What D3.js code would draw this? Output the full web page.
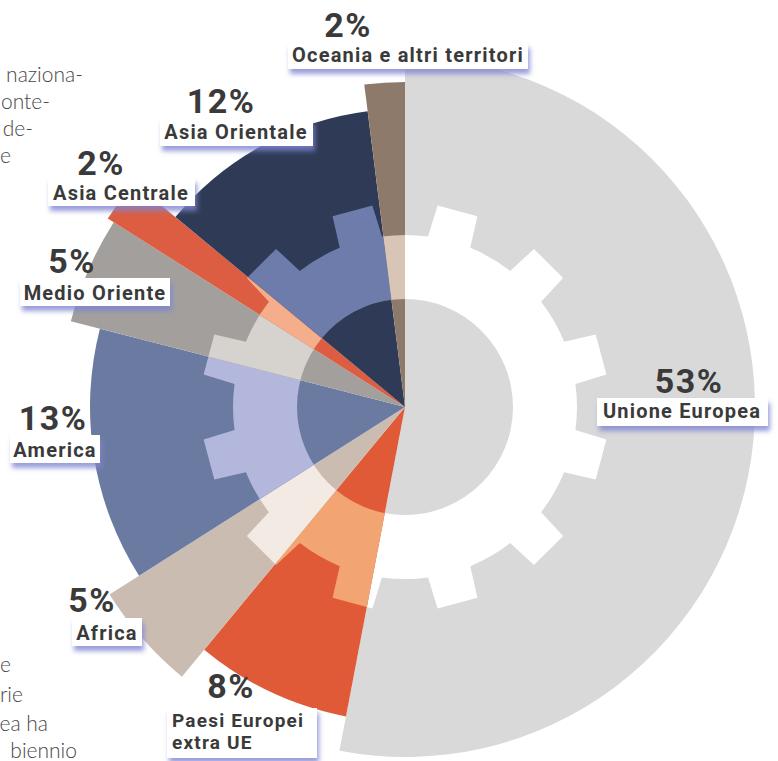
<!DOCTYPE html>
<html>
<head>
<meta charset="utf-8">
<script src="https://cdn.jsdelivr.net/npm/d3@7"></script>
<style>
  html, body { margin: 0; padding: 0; background: #ffffff; }
  svg { display: block; }
</style>
</head>
<body>
<svg id="chart" width="778" height="761"></svg>
<script>
// Provenienza per area geografica (quota %), in senso orario dalle ore 12
const regions = ["Unione Europea", "Paesi Europei extra UE", "Africa", "America",
                 "Medio Oriente", "Asia Centrale", "Asia Orientale", "Oceania e altri territori"];
const shares = [53, 8, 5, 13, 5, 2, 12, 2];
const shareLabels = ["53%", "8%", "5%", "13%", "5%", "2%", "12%", "2%"];
const nameLines = [["Unione Europea"], ["Paesi Europei", "extra UE"], ["Africa"], ["America"],
                   ["Medio Oriente"], ["Asia Centrale"], ["Asia Orientale"], ["Oceania e altri territori"]];

// Testo di corredo a margine (righe tagliate dal bordo sinistro)
const sideTextTop = ["naziona-", "onte-", "de-", "e"];
const sideTextBottom = ["e", "rie", "ea ha", "biennio"];

// ---- stile ----
const fills     = ["#d9d9d9", "#e05a38", "#cbbcb2", "#6b7aa1", "#a29f9d", "#dc5d42", "#2f3b56", "#8e7a6a"];
const gearTints = ["#ffffff", "#f2a472", "#f3ebe3", "#b3b7dc", "#d6d2ce", "#f5ae8b", "#6e7cab", "#d8c5b6"];
const reach     = [350, 315, 350, 315, 345, 352, 298, 325];   // raggio esterno di ogni spicchio

// posizione delle etichette: percentuale [x, baseline], riquadro [x, y, w, h], nome [x, baseline, allineamento]
const labelLayout = [
  { pct: [689, 393], box: [597, 398, 171, 28], name: [682, 418, "middle"] },
  { pct: [231, 698], box: [167, 708, 150, 50], name: [172, 727, "start"] },
  { pct: [92, 612],  box: [72, 618, 70, 28],   name: [107, 640, "middle"] },
  { pct: [53, 430],  box: [10, 435, 90, 28],   name: [55, 457, "middle"] },
  { pct: [72, 273],  box: [20, 278, 150, 28],  name: [95, 300, "middle"] },
  { pct: [101, 175], box: [48, 178, 147, 28],  name: [121, 200, "middle"] },
  { pct: [221, 113], box: [160, 119, 153, 27], name: [236, 139, "middle"] },
  { pct: [348, 37],  box: [288, 43, 240, 26],  name: [408, 62, "middle"] }
];

const cx = 405, cy = 407;

const svg = d3.select("#chart");
const defs = svg.append("defs");

// ombra azzurrata sotto i riquadri bianchi
const shadow = defs.append("filter").attr("id", "boxShadow")
  .attr("x", "-10%").attr("y", "-40%").attr("width", "125%").attr("height", "200%");
shadow.append("feGaussianBlur").attr("in", "SourceAlpha").attr("stdDeviation", 2.5).attr("result", "blur");
shadow.append("feOffset").attr("in", "blur").attr("dx", 2).attr("dy", 5).attr("result", "off");
shadow.append("feFlood").attr("flood-color", "#7f84d2").attr("flood-opacity", 0.8);
shadow.append("feComposite").attr("in2", "off").attr("operator", "in");
const merge = shadow.append("feMerge");
merge.append("feMergeNode");
merge.append("feMergeNode").attr("in", "SourceGraphic");

// ---- dati per la torta ----
const data = regions.map((r, i) => ({ region: r, share: shares[i], label: shareLabels[i], lines: nameLines[i] }));
const pie = d3.pie().sort(null).value(d => d.share);
const arcs = pie(data);
const arc = d3.arc().innerRadius(0).outerRadius(d => reach[d.index]);

// ---- ingranaggio decorativo (corona dentata con foro centrale) ----
function gearPath() {
  const teeth = 12, hubR = 108, rootR = 172, tipR = 204;
  const step = 2 * Math.PI / teeth;
  const offset = step / 2;
  const halfTip = 5.8 * Math.PI / 180, halfRoot = 7.3 * Math.PI / 180;
  const pt = (r, a) => [r * Math.sin(a), -r * Math.cos(a)];
  const p = d3.path();
  for (let i = 0; i < teeth; i++) {
    const a = offset + i * step;
    const r0 = pt(rootR, a - halfRoot), t0 = pt(tipR, a - halfTip),
          t1 = pt(tipR, a + halfTip);
    if (i === 0) p.moveTo(...r0); else p.lineTo(...r0);
    p.lineTo(...t0);
    p.lineTo(...t1);
    // arco alla base fino al dente successivo
    const aStart = a + halfRoot, aEnd = a + step - halfRoot;
    p.arc(0, 0, rootR, aStart - Math.PI / 2, aEnd - Math.PI / 2, false);
  }
  p.closePath();
  p.moveTo(hubR, 0);
  p.arc(0, 0, hubR, 0, 2 * Math.PI, true);
  p.closePath();
  return p.toString();
}
const gearD = gearPath();

const plot = svg.append("g").attr("transform", `translate(${cx},${cy})`);

arcs.forEach((d, i) => {
  defs.append("clipPath").attr("id", "wedge-" + i)
    .append("path").attr("d", arc(d));
});

const slice = plot.selectAll("g.slice").data(arcs).join("g").attr("class", "slice");
slice.append("path")
  .attr("d", arc)
  .attr("fill", d => fills[d.index]);
slice.append("path")
  .attr("d", gearD)
  .attr("fill-rule", "evenodd")
  .attr("fill", d => gearTints[d.index])
  .attr("clip-path", d => `url(#wedge-${d.index})`);

// ---- testo a margine ----
const side = svg.append("g")
  .attr("font-family", "Lato, 'Open Sans', sans-serif")
  .attr("font-weight", 300)
  .attr("font-size", 21)
  .attr("fill", "#474747")
  .attr("text-anchor", "end");
const topEnds = [83, 50, 33, 11], topBase = [82, 109, 136, 163];
side.selectAll("text.top").data(sideTextTop).join("text").attr("class", "top")
  .attr("x", (d, i) => topEnds[i]).attr("y", (d, i) => topBase[i]).text(d => d);
const botEnds = [11, 23, 48, 77], botBase = [672, 702, 731, 758];
side.selectAll("text.bot").data(sideTextBottom).join("text").attr("class", "bot")
  .attr("x", (d, i) => botEnds[i]).attr("y", (d, i) => botBase[i]).text(d => d);

// ---- etichette ----
const labels = svg.append("g").attr("font-family", "Roboto, 'DejaVu Sans', sans-serif").attr("fill", "#3a3a3a");
arcs.forEach((d, i) => {
  const L = labelLayout[i];
  const g = labels.append("g");
  g.append("text")
    .attr("x", L.pct[0]).attr("y", L.pct[1])
    .attr("text-anchor", "middle")
    .attr("font-size", 34).attr("font-weight", 700)
    .attr("letter-spacing", 1.5)
    .text(d.data.label);
  g.append("rect")
    .attr("x", L.box[0]).attr("y", L.box[1])
    .attr("width", L.box[2]).attr("height", L.box[3])
    .attr("fill", "#ffffff")
    .attr("filter", "url(#boxShadow)");
  d.data.lines.forEach((line, k) => {
    g.append("text")
      .attr("x", L.name[0]).attr("y", L.name[1] + k * 22)
      .attr("text-anchor", L.name[2])
      .attr("font-size", d.data.lines.length > 1 ? 19 : 20).attr("font-weight", 700)
      .attr("letter-spacing", 1.2)
      .text(line);
  });
});
</script>
</body>
</html>
